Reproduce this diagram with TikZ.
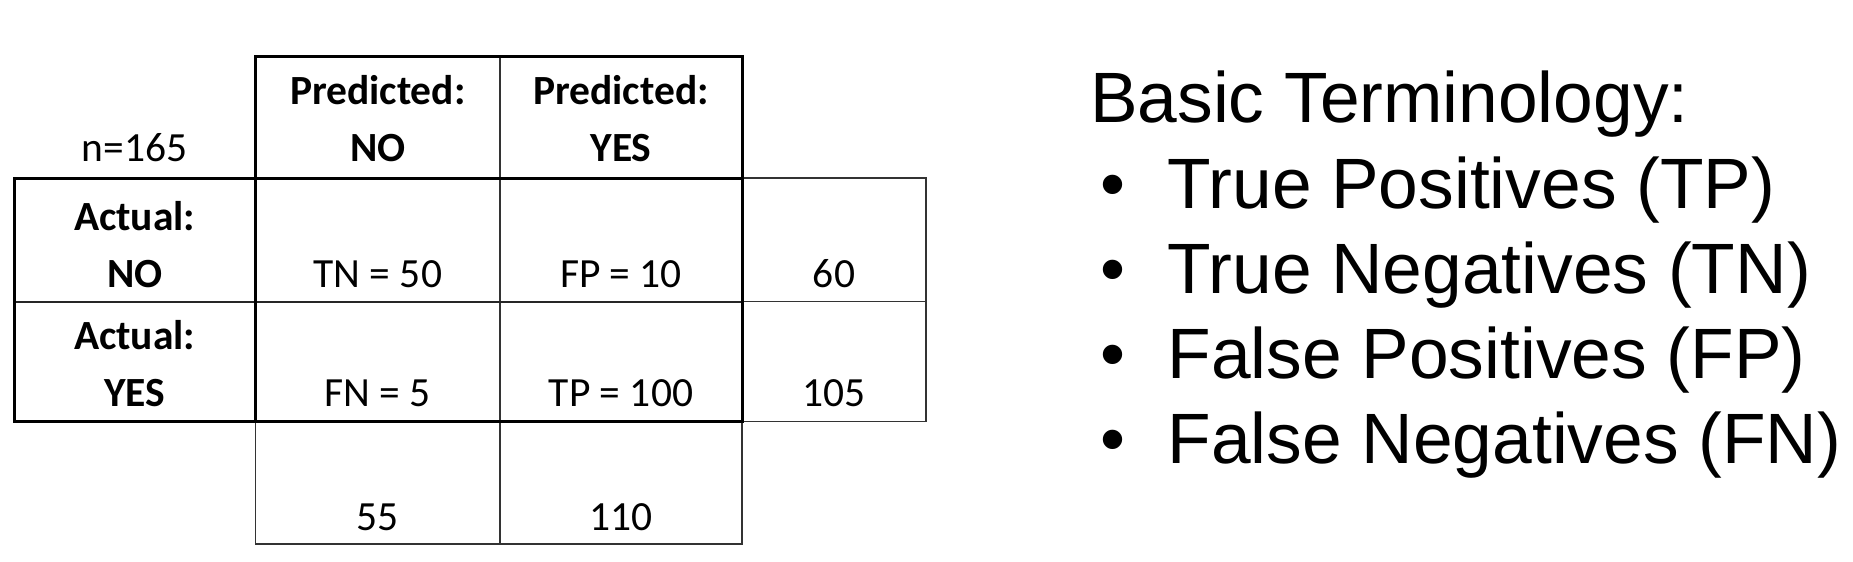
\documentclass[tikz,border=0pt]{standalone}
\usepackage{fontspec}
\newfontfamily\carl{Carlito}
\newfontfamily\arialf{Liberation Sans}
\begin{document}
\begin{tikzpicture}[x=1pt,y=-1pt,
  heavyrule/.style={line width=3pt, black},
  midrule/.style={line width=2pt, black!85},
  lightrule/.style={line width=1.7pt, black!80},
  cell/.style={font=\carl\fontsize{41.5}{49}\selectfont, inner sep=0pt, anchor=base, text=black},
  hdr/.style={font=\carl\bfseries\fontsize{41.5}{49}\selectfont, inner sep=0pt, anchor=base, text=black},
  term/.style={font=\arialf\fontsize{71.3}{84}\selectfont, inner sep=0pt, anchor=base west},
  bulletmark/.style={font=\arialf\fontsize{71.3}{84}\selectfont, inner sep=0pt, anchor=base}]
\fill[white] (0,0) rectangle (1853,562);
\useasboundingbox (0,0) rectangle (1853,562);
% thin lines
\draw[lightrule] (742,178) rectangle (926,421.5);
\draw[lightrule] (742,301.5) -- (926,301.5);
\draw[lightrule] (255.5,421.5) rectangle (742,544);
\draw[lightrule] (500,56) -- (500,544);
\draw[midrule] (14,301.5) -- (742,301.5);
% thick lines
\draw[heavyrule] (255.5,56) rectangle (742,178);
\draw[heavyrule] (14,178) rectangle (742,421.5);
\draw[heavyrule] (255.5,178) -- (255.5,421.5);
% table texts
\node[cell] (n) at (134.7,161.5) {n=165};
\node[hdr] (pn1) at (377.8,104) {Predicted:};
\node[hdr] (pn2) at (377.8,161) {NO};
\node[hdr] (py1) at (621,104) {Predicted:};
\node[hdr] (py2) at (621,161) {YES};
\node[hdr] (an1) at (134.7,230) {Actual:};
\node[hdr] (an2) at (134.7,287) {NO};
\node[hdr] (ay1) at (134.7,349) {Actual:};
\node[hdr] (ay2) at (134.7,406) {YES};
\node[cell] (tn) at (377.8,287) {TN = 50};
\node[cell] (fp) at (621,287) {FP = 10};
\node[cell] (r1) at (834,287) {60};
\node[cell] (fn) at (377.8,406) {FN = 5};
\node[cell] (tp) at (621,406) {TP = 100};
\node[cell] (r2) at (834,406) {105};
\node[cell] (c1) at (377.8,530) {55};
\node[cell] (c2) at (621,530) {110};
% terminology
\node[term] (title) at (1090,122.7) {Basic Terminology:};
\node[bulletmark] (b1) at (1113,208.3) {•};
\node[term] (t1) at (1167.5,208.3) {True Positives (TP)};
\node[bulletmark] (b2) at (1113,293.3) {•};
\node[term] (t2) at (1167.5,293.3) {True Negatives (TN)};
\node[bulletmark] (b3) at (1113,378.5) {•};
\node[term] (t3) at (1167.5,378.5) {False Positives (FP)};
\node[bulletmark] (b4) at (1113,463.7) {•};
\node[term] (t4) at (1167.5,463.7) {False Negatives (FN)};
\end{tikzpicture}
\end{document}
